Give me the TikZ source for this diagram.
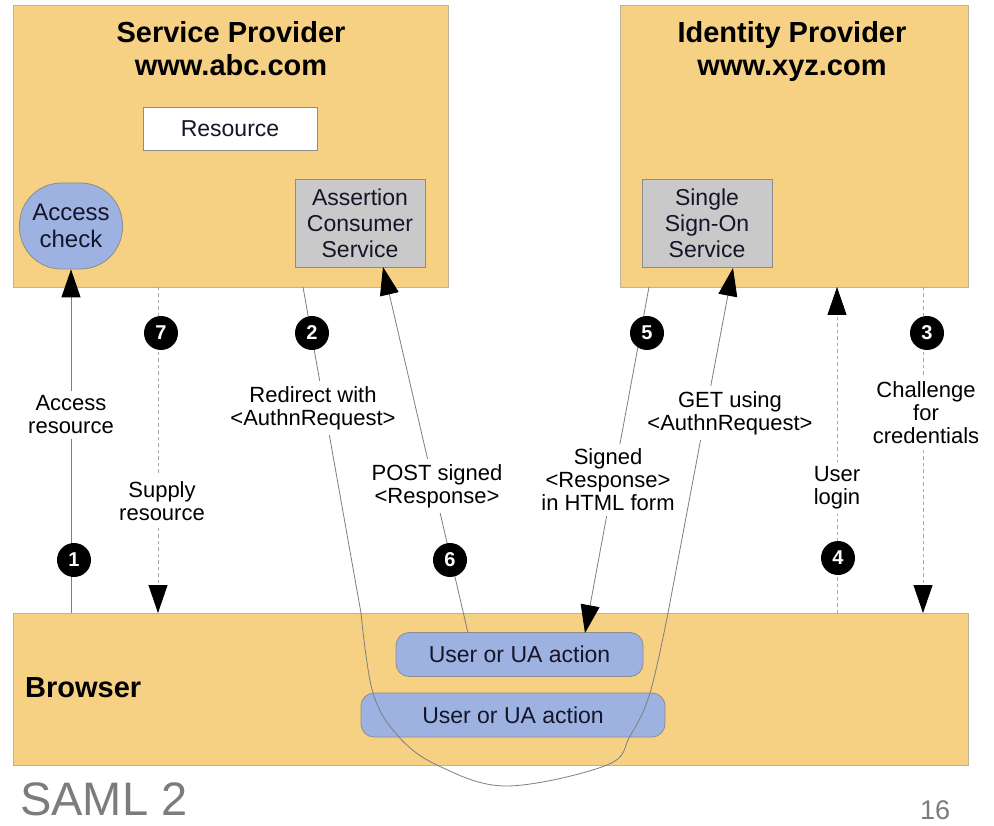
\documentclass[tikz,border=0pt]{standalone}
\usepackage{fontspec}
\setmainfont{Liberation Sans}
\usetikzlibrary{arrows.meta}
\definecolor{panelfill}{HTML}{F6D184}
\definecolor{panelline}{HTML}{BDB29A}
\definecolor{bluefill}{HTML}{9EB2E2}
\definecolor{greyfill}{HTML}{C9C9C9}
\definecolor{boxline}{HTML}{8C8C8C}
\definecolor{inkdark}{HTML}{15152A}
\definecolor{flowline}{HTML}{7E7E7E}
\definecolor{dashline}{HTML}{A8A8A8}
\definecolor{footgrey}{HTML}{7C7C7C}
\tikzset{
  panel/.style={draw=panelline, fill=panelfill, line width=0.8pt, inner sep=0pt},
  heading/.style={font=\bfseries\fontsize{29}{33}\selectfont, anchor=base, inner sep=0pt, text=black},
  service/.style={draw=boxline, fill=greyfill, line width=0.8pt, inner sep=0pt,
    minimum width=130pt, minimum height=88pt, align=center, text=inkdark,
    font=\fontsize{23}{26}\selectfont},
  uabox/.style={draw=boxline, fill=bluefill, line width=0.8pt, rounded corners=13pt,
    inner sep=0pt, minimum height=44pt, text=inkdark, font=\fontsize{23}{26}\selectfont},
  lbl/.style={fill=white, inner sep=5pt, align=center, text=black,
    font=\fontsize{22}{23}\selectfont},
  numdot/.style={circle, fill=black, text=white, inner sep=0pt, minimum size=34pt,
    font=\bfseries\fontsize{20}{20}\selectfont},
  flow/.style={draw=flowline, line width=0.8pt},
  dashflow/.style={draw=dashline, line width=0.8pt, dash pattern=on 3.5pt off 3pt},
  bigtip/.style={-{Triangle[length=28pt,width=19pt,fill=black,color=black]}},
}
\begin{document}
\begin{tikzpicture}[x=1pt, y=-1pt]
\useasboundingbox (0,0) rectangle (994,826);
\fill[white] (0,0) rectangle (994,826);

% the three parties
\node[panel, minimum width=435pt, minimum height=282pt] (SP) at (230.5,146) {};
\node[panel, minimum width=348pt, minimum height=282pt] (IdP) at (794,146) {};
\node[panel, minimum width=955pt, minimum height=152pt] (Browser) at (490.5,689) {};

\node[heading] (spname) at (231,43) {Service Provider};
\node[heading] (spurl) at (231,76) {www.abc.com};
\node[heading] (idpname) at (792,43) {Identity Provider};
\node[heading] (idpurl) at (792,76) {www.xyz.com};
\node[font=\bfseries\fontsize{29}{33}\selectfont, anchor=west, inner sep=0pt, text=black]
  (brname) at (25,688) {Browser};

% components inside the parties
\node[draw=boxline, fill=white, line width=0.8pt, minimum width=174pt, minimum height=43pt,
  inner sep=0pt, font=\fontsize{23}{26}\selectfont, text=inkdark] (Res) at (230,128.5) {Resource};
\node[draw=boxline, fill=bluefill, line width=0.8pt, rounded corners=42pt,
  minimum width=103pt, minimum height=86pt, inner sep=0pt, align=center, text=inkdark,
  font=\fontsize{24}{27}\selectfont] (AC) at (71,226) {Access\\check};
\node[service] (ACS) at (360,223) {Assertion\\Consumer\\Service};
\node[service] (SSO) at (707,223) {Single\\Sign-On\\Service};
\node[uabox, minimum width=247pt] (UA1) at (519.5,654.5) {User or UA action};
\node[uabox, minimum width=304pt] (UA2) at (513,715) {User or UA action};

% free ends of the message flows
\coordinate (s7) at (158,287);  \coordinate (e7) at (158,613);
\coordinate (s2) at (303,287);  \coordinate (e2) at (733,268);
\coordinate (s6) at (468,633);  \coordinate (e6) at (383,267);
\coordinate (s5) at (649,287);  \coordinate (e5) at (585,633);
\coordinate (s4) at (837,613);  \coordinate (e4) at (837,287);
\coordinate (s3) at (923,287);  \coordinate (e3) at (923,613);

% message flows
\draw[flow, bigtip] (AC.south |- Browser.north) -- (AC.south);
\draw[dashflow, bigtip] (s7) -- (e7);
\draw[flow, bigtip] (s2) -- (361,613)
  -- plot[smooth, tension=0.6] coordinates {(361,613) (373,693) (399,737) (439,766)
     (507,786) (607,765) (630,736) (650,693) (668,613)}
  -- (e2);
\draw[flow, bigtip] (s6) -- (e6);
\draw[flow, bigtip] (s5) -- (e5);
\draw[dashflow, bigtip] (s4) -- (e4);
\draw[dashflow, bigtip] (s3) -- (e3);

% flow labels
\node[lbl] (l1) at (71,415) {Access\\resource};
\node[lbl] (l7) at (162,501) {Supply\\resource};
\node[lbl] (l2) at (313,408) {Redirect with\\<AuthnRequest>};
\node[lbl] (l6) at (437,486) {POST signed\\<Response>};
\node[lbl] (l5) at (608,480) {Signed\\<Response>\\in HTML form};
\node[lbl] (lg) at (730,413) {GET using\\<AuthnRequest>};
\node[lbl] (l4) at (837,488) {User\\login};
\node[lbl] (l3) at (926,413) {Challenge\\for\\credentials};

% step numbers
\node[numdot] (n1) at (74,560) {1};
\node[numdot] (n2) at (312,333) {2};
\node[numdot] (n3) at (927,333) {3};
\node[numdot] (n4) at (838,558) {4};
\node[numdot] (n5) at (647,333) {5};
\node[numdot] (n6) at (450,560) {6};
\node[numdot] (n7) at (161,333) {7};

% slide footer
\node[anchor=base west, inner sep=0pt, text=footgrey, font=\fontsize{47}{47}\selectfont]
  (title) at (20,815) {SAML 2};
\node[anchor=base west, inner sep=0pt, text=footgrey, font=\fontsize{27}{27}\selectfont]
  (page) at (920,819) {16};
\end{tikzpicture}
\end{document}
